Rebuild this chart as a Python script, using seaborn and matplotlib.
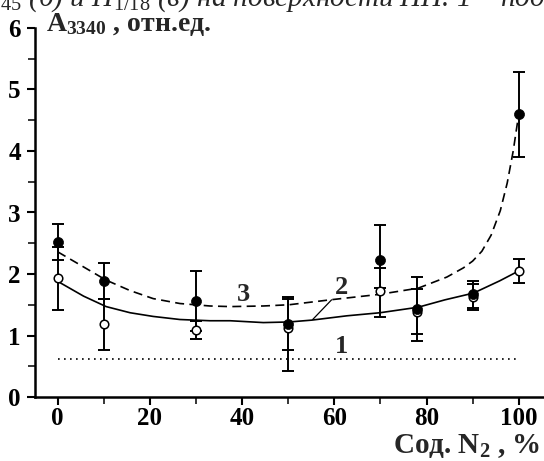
import matplotlib
matplotlib.use("Agg")
import matplotlib.pyplot as plt
import seaborn as sns
import pandas as pd

# Measurement points: N2 content, %
n2_content = [0, 10, 30, 50, 70, 78, 90, 100]

# Series 3 (filled markers) with lower/upper error
a3 = [2.52, 1.89, 1.56, 1.19, 2.23, 1.43, 1.67, 4.60]
a3_err_lo = [0.30, 0.29, 0.49, 0.43, 0.45, 0.52, 0.22, 0.69]
a3_err_hi = [0.30, 0.29, 0.49, 0.43, 0.57, 0.52, 0.22, 0.69]

# Series 2 (open markers) with lower/upper error
a2 = [1.93, 1.18, 1.09, 1.12, 1.72, 1.39, 1.62, 2.05]
a2_err_lo = [0.51, 0.42, 0.15, 0.69, 0.42, 0.37, 0.21, 0.19]
a2_err_hi = [0.51, 0.42, 0.15, 0.47, 0.37, 0.37, 0.21, 0.19]

# Fitted curves
curve2_x = [0, 5.6, 10.5, 15.7, 20.7, 26.5, 33, 37.4, 44.6, 50.2, 55.1, 62.7,
            69.9, 78.2, 84, 90.2, 95.9, 100]
curve2_y = [1.88, 1.64, 1.47, 1.37, 1.31, 1.26, 1.24, 1.24, 1.21, 1.22, 1.25,
            1.32, 1.37, 1.46, 1.58, 1.69, 1.89, 2.05]
curve3_x = [0, 4.8, 10.5, 15.7, 20.7, 26.5, 33, 37.4, 44.6, 50.2, 59.1, 69.9,
            78.2, 84.4, 88, 90, 92, 94, 96, 97.5, 98.8, 100]
curve3_y = [2.36, 2.15, 1.90, 1.73, 1.60, 1.52, 1.48, 1.47, 1.48, 1.50, 1.58,
            1.67, 1.77, 1.95, 2.10, 2.21, 2.37, 2.63, 3.03, 3.48, 4.00, 4.60]

# Level 1 (reference)
level1_x = [0, 100]
level1_y = [0.61, 0.61]

x_ticks = [0, 20, 40, 60, 80, 100]
y_ticks = [0, 1, 2, 3, 4, 5, 6]

sns.set_style("ticks")
plt.rcParams["font.family"] = ["Liberation Serif", "DejaVu Serif"]
plt.rcParams["mathtext.fontset"] = "custom"
plt.rcParams["mathtext.rm"] = "Liberation Serif"
plt.rcParams["mathtext.it"] = "Liberation Serif:italic"
plt.rcParams["mathtext.bf"] = "Liberation Serif:bold"

W, H = 544, 461
fig = plt.figure(figsize=(W / 100, H / 100), dpi=100)
ax = fig.add_axes([34.7 / W, 1 - 397 / H, (546.4 - 34.7) / W, (397 - 28) / H])

pts = pd.DataFrame({"x": n2_content, "a2": a2, "a3": a3})
c2 = pd.DataFrame({"x": curve2_x, "y": curve2_y})
c3 = pd.DataFrame({"x": curve3_x, "y": curve3_y})
c1 = pd.DataFrame({"x": level1_x, "y": level1_y})

sns.lineplot(data=c1, x="x", y="y", ax=ax, color="black", lw=1.2,
             linestyle=(0, (1, 2.6)), estimator=None, sort=False)
sns.lineplot(data=c2, x="x", y="y", ax=ax, color="black", lw=1.2,
             estimator=None, sort=False)
sns.lineplot(data=c3, x="x", y="y", ax=ax, color="black", lw=1.2,
             linestyle=(0, (5.4, 3.2)), estimator=None, sort=False)

ax.errorbar(pts["x"], pts["a2"], yerr=[a2_err_lo, a2_err_hi], fmt="none",
            ecolor="black", elinewidth=1.4, capsize=4.3, capthick=1.4, zorder=3)
ax.errorbar(pts["x"], pts["a3"], yerr=[a3_err_lo, a3_err_hi], fmt="none",
            ecolor="black", elinewidth=1.4, capsize=4.3, capthick=1.4, zorder=3)

sns.scatterplot(data=pts, x="x", y="a2", ax=ax, marker="o", s=38,
                facecolor="white", edgecolor="black", linewidth=1.1, zorder=4)
sns.scatterplot(data=pts, x="x", y="a3", ax=ax, marker="o", s=52,
                color="black", edgecolor="black", linewidth=0.5, zorder=5)

ax.set_xlim(-5, 106)
ax.set_ylim(0, 6)
ax.set_xticks(x_ticks)
ax.set_xticks([10, 30, 50, 70, 90], minor=True)
ax.set_yticks(y_ticks)
ax.set_yticks([0.5, 1.5, 2.5, 3.5, 4.5, 5.5], minor=True)
ax.set_xticklabels([str(v) for v in x_ticks])
ax.set_yticklabels([str(v) for v in y_ticks])
ax.set_xlabel("")
ax.set_ylabel("")

ax.tick_params(axis="both", which="major", direction="out", length=6, width=1.5,
               labelsize=18, colors="black")
ax.tick_params(axis="both", which="minor", direction="out", length=5, width=1.3)
ax.tick_params(axis="x", pad=1)
ax.tick_params(axis="y", pad=4)
for lab in ax.get_xticklabels() + ax.get_yticklabels():
    lab.set_fontweight("bold")

for side in ("top", "right"):
    ax.spines[side].set_visible(False)
for side in ("left", "bottom"):
    ax.spines[side].set_linewidth(1.8)
    ax.spines[side].set_color("black")

# Curve labels
ax.text(40.2, 1.66, "3", fontsize=19, fontweight="bold", ha="center", va="center")
ax.text(61.6, 1.78, "2", fontsize=19, fontweight="bold", ha="center", va="center")
ax.text(61.6, 0.82, "1", fontsize=19, fontweight="bold", ha="center", va="center")
ax.plot([55.3, 59.4], [1.26, 1.58], color="black", lw=0.9)

# Axis titles
fig.text(46 / W, 1 - 25 / H, r"A$_{\mathbf{3340}}$ , отн.ед.", fontsize=20,
         fontweight="bold", ha="left", va="center")
fig.text(540 / W, 1 - 446 / H, r"Сод. N$_{\mathbf{2}}$ , %", fontsize=21,
         fontweight="bold", ha="right", va="center")

# Caption line running along the top edge
fig.text(0 / W, 1 - 6 / H, r"$_{\mathit{45}}$ (б) и Н$_{\mathit{1/18}}$ (в) на поверхности НН. 1 – под",
         fontsize=21, fontstyle="italic", ha="left", va="baseline")

fig.savefig("out.png", dpi=100)
